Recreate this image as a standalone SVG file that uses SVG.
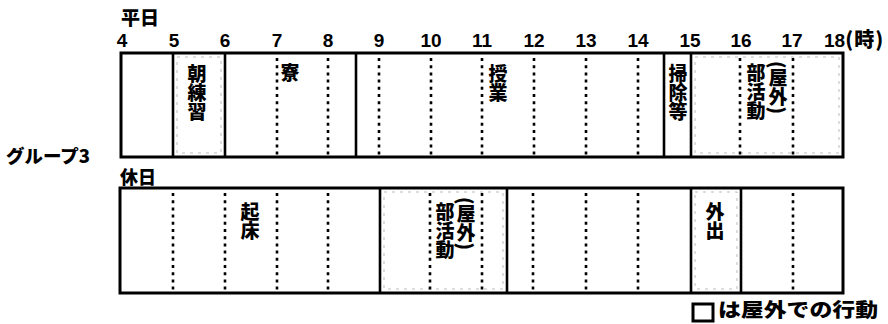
<svg xmlns="http://www.w3.org/2000/svg" width="888" height="324" viewBox="0 0 888 324">
<style>
  .frame{fill:#fff;stroke:#000;stroke-width:3}
  .solid{stroke:#000;stroke-width:2.6}
  .dot{stroke:#000;stroke-width:2.6;stroke-dasharray:3 4.2}
  .out{fill:none;stroke:#aaa;stroke-width:0.8;stroke-dasharray:3 5}
  .num{font-family:"Liberation Sans",Arial,sans-serif;font-weight:bold;font-size:19px;fill:#000;text-anchor:middle}
  .jp{font-family:"Noto Sans CJK JP","Noto Sans CJK SC",sans-serif;font-weight:900;fill:#000}
  .vt{font-family:"Noto Sans CJK JP","Noto Sans CJK SC",sans-serif;font-weight:900;font-size:19px;fill:#000;writing-mode:vertical-rl;text-anchor:start}
</style>

<g id="header">
  <text class="jp" x="121" y="25" font-size="19">平日</text>
  <text class="num" x="122" y="47">4</text>
  <text class="num" x="174" y="47">5</text>
  <text class="num" x="225" y="47">6</text>
  <text class="num" x="277" y="47">7</text>
  <text class="num" x="328" y="47">8</text>
  <text class="num" x="379" y="47">9</text>
  <text class="num" x="431" y="47">10</text>
  <text class="num" x="482" y="47">11</text>
  <text class="num" x="534" y="47">12</text>
  <text class="num" x="586" y="47">13</text>
  <text class="num" x="638" y="47">14</text>
  <text class="num" x="690" y="47">15</text>
  <text class="num" x="741" y="47">16</text>
  <text class="num" x="792" y="47">17</text>
  <text class="num" x="824" y="47" style="text-anchor:start">18<tspan class="jp" font-size="20" letter-spacing="1">(時)</tspan></text>
  <text class="jp" x="6" y="163" font-size="18" textLength="84" lengthAdjust="spacingAndGlyphs">グループ3</text>
  <text class="jp" x="120" y="184" font-size="18">休日</text>
</g>

<g id="weekday">
  <rect class="frame" x="121" y="53" width="722" height="104"/>
  <rect class="out" x="177" y="57" width="44" height="96"/>
  <rect class="out" x="695" y="57" width="144" height="96"/>
  <g id="wd-lines">
    <line class="solid" x1="173" y1="53" x2="173" y2="157"/>
    <line class="solid" x1="225" y1="53" x2="225" y2="157"/>
    <line class="solid" x1="356" y1="53" x2="356" y2="157"/>
    <line class="solid" x1="664" y1="53" x2="664" y2="157"/>
    <line class="solid" x1="691" y1="53" x2="691" y2="157"/>
    <line class="dot" x1="277" y1="58" x2="277" y2="156"/>
    <line class="dot" x1="328" y1="58" x2="328" y2="156"/>
    <line class="dot" x1="379" y1="58" x2="379" y2="156"/>
    <line class="dot" x1="431" y1="58" x2="431" y2="156"/>
    <line class="dot" x1="482" y1="58" x2="482" y2="156"/>
    <line class="dot" x1="534" y1="58" x2="534" y2="156"/>
    <line class="dot" x1="586" y1="58" x2="586" y2="156"/>
    <line class="dot" x1="638" y1="58" x2="638" y2="156"/>
    <line class="dot" x1="740" y1="58" x2="740" y2="156"/>
    <line class="dot" x1="793" y1="58" x2="793" y2="156"/>
  </g>
  <g id="wd-asaren"><text class="vt" x="197" y="64">朝練習</text></g>
  <g id="wd-ryo"><text class="vt" x="290" y="63">寮</text></g>
  <g id="wd-jugyo"><text class="vt" x="498" y="64">授業</text></g>
  <g id="wd-soji"><text class="vt" x="678" y="64">掃除等</text></g>
  <g id="wd-bukatsu">
    <text class="vt" x="756" y="63">部活動</text>
    <text class="vt" x="778" y="61">(屋外)</text>
  </g>
</g>

<g id="holiday">
  <rect class="frame" x="120" y="188" width="723" height="105"/>
  <rect class="out" x="384" y="192" width="119" height="97"/>
  <rect class="out" x="695" y="192" width="42" height="97"/>
  <g id="hd-lines">
    <line class="solid" x1="380" y1="188" x2="380" y2="293"/>
    <line class="solid" x1="507" y1="188" x2="507" y2="293"/>
    <line class="solid" x1="691" y1="188" x2="691" y2="293"/>
    <line class="solid" x1="741" y1="188" x2="741" y2="293"/>
    <line class="dot" x1="173" y1="193" x2="173" y2="292"/>
    <line class="dot" x1="225" y1="193" x2="225" y2="292"/>
    <line class="dot" x1="277" y1="193" x2="277" y2="292"/>
    <line class="dot" x1="328" y1="193" x2="328" y2="292"/>
    <line class="dot" x1="430" y1="193" x2="430" y2="292"/>
    <line class="dot" x1="482" y1="193" x2="482" y2="292"/>
    <line class="dot" x1="533" y1="193" x2="533" y2="292"/>
    <line class="dot" x1="586" y1="193" x2="586" y2="292"/>
    <line class="dot" x1="638" y1="193" x2="638" y2="292"/>
    <line class="dot" x1="793" y1="193" x2="793" y2="292"/>
  </g>
  <g id="hd-kisho"><text class="vt" x="250" y="202">起床</text></g>
  <g id="hd-bukatsu">
    <text class="vt" x="445" y="202">部活動</text>
    <text class="vt" x="466" y="197">(屋外)</text>
  </g>
  <g id="hd-gaishutsu"><text class="vt" x="715" y="202">外出</text></g>
</g>

<g id="legend">
  <rect x="693" y="304" width="20" height="17" fill="#fff" stroke="#000" stroke-width="3"/>
  <text class="jp" x="718" y="317" font-size="19" textLength="160" lengthAdjust="spacingAndGlyphs">は屋外での行動</text>
</g>
</svg>
